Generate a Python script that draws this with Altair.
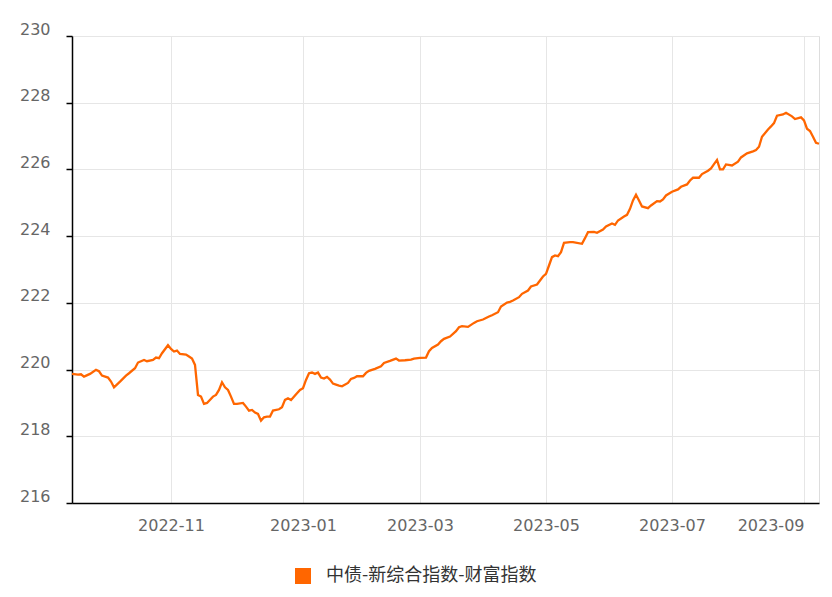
import altair as alt
import pandas as pd

series_name = "中债-新综合指数-财富指数"

# trading-day index along the category axis
day_index = [
    0, 2, 3, 4, 6, 8, 9, 10, 12, 13, 14, 16, 18, 19, 21, 22, 24, 25, 27, 28,
    29, 30, 32, 33, 34, 35, 36, 38, 39, 40, 41, 42, 43, 44, 45, 47, 48, 49, 50, 51,
    52, 53, 54, 55, 57, 58, 59, 60, 61, 62, 63, 64, 65, 66, 67, 69, 70, 71, 72, 73,
    75, 76, 77, 78, 79, 80, 81, 82, 83, 84, 85, 86, 87, 88, 89, 90, 92, 93, 94, 95,
    97, 98, 99, 101, 103, 104, 106, 108, 109, 111, 113, 114, 116, 118, 119, 120, 122, 123, 124, 126,
    128, 129, 130, 132, 134, 135, 137, 139, 140, 142, 143, 145, 146, 147, 149, 150, 152, 153, 155, 156,
    157, 158, 159, 160, 161, 162, 163, 164, 166, 167, 170, 171, 172, 174, 175, 177, 178, 180, 181, 182,
    184, 185, 186, 187, 188, 189, 190, 192, 193, 195, 196, 197, 198, 200, 202, 203, 205, 206, 207, 209,
    210, 212, 213, 214, 215, 216, 217, 218, 220, 222, 223, 225, 227, 228, 229, 230, 232, 233, 234, 235,
    237, 238, 240, 241, 243, 244, 245, 246, 247, 248, 249,
]

index_value = [
    219.87, 219.85, 219.86, 219.79, 219.87, 219.99, 219.95, 219.82, 219.76, 219.64,
    219.47, 219.64, 219.82, 219.89, 220.04, 220.21, 220.29, 220.25, 220.29, 220.36,
    220.34, 220.49, 220.73, 220.62, 220.54, 220.57, 220.47, 220.45, 220.39, 220.33,
    220.14, 219.24, 219.19, 218.97, 219.00, 219.19, 219.24, 219.39, 219.62, 219.47,
    219.39, 219.19, 218.97, 218.97, 219.00, 218.89, 218.77, 218.79, 218.71, 218.67,
    218.47, 218.57, 218.59, 218.59, 218.77, 218.81, 218.87, 219.09, 219.14, 219.09,
    219.29, 219.39, 219.44, 219.69, 219.89, 219.91, 219.87, 219.91, 219.76, 219.73,
    219.78, 219.70, 219.58, 219.55, 219.52, 219.50, 219.60, 219.72, 219.75, 219.80,
    219.80, 219.90, 219.96, 220.02, 220.10, 220.20, 220.26, 220.33, 220.27, 220.28,
    220.30, 220.33, 220.35, 220.36, 220.55, 220.65, 220.75, 220.85, 220.92, 220.99,
    221.15, 221.27, 221.30, 221.28, 221.40, 221.45, 221.50, 221.59, 221.63, 221.72,
    221.89, 222.01, 222.03, 222.07, 222.17, 222.27, 222.37, 222.49, 222.55, 222.67,
    222.79, 222.87, 223.12, 223.37, 223.42, 223.40, 223.52, 223.80, 223.82, 223.82,
    223.77, 223.94, 224.12, 224.13, 224.10, 224.20, 224.29, 224.38, 224.34, 224.47,
    224.59, 224.64, 224.82, 225.07, 225.24, 225.07, 224.89, 224.84, 224.92, 225.05,
    225.04, 225.10, 225.22, 225.33, 225.40, 225.48, 225.55, 225.67, 225.75, 225.75,
    225.86, 225.96, 226.03, 226.16, 226.28, 226.00, 226.00, 226.15, 226.12, 226.23,
    226.36, 226.48, 226.54, 226.58, 226.68, 226.98, 227.20, 227.29, 227.39, 227.61,
    227.65, 227.70, 227.59, 227.51, 227.56, 227.47, 227.22, 227.15, 226.98, 226.80,
    226.77,
]

tick_days = [33, 77, 116, 158, 200, 244]
tick_labels = ["2022-11", "2023-01", "2023-03", "2023-05", "2023-07", "2023-09"]
y_ticks = [216, 218, 220, 222, 224, 226, 228, 230]

df = pd.DataFrame({"day": day_index, "value": index_value})
df["series"] = series_name

label_expr = (
    "[" + ",".join(f"'{s}'" for s in tick_labels) + "]"
    + "[indexof([" + ",".join(str(d) for d in tick_days) + "], datum.value)]"
)

chart = alt.Chart(df).mark_line(strokeWidth=2.3).encode(
    x=alt.X(
        "day:Q",
        scale=alt.Scale(domain=[0, 249], nice=False, zero=False),
        axis=alt.Axis(
            values=tick_days, labelExpr=label_expr, title=None,
            ticks=False, tickSize=0, labelPadding=14, labelFlush=20,
            grid=True, gridColor="#e6e6e6", gridWidth=1,
            domainColor="#000000", domainWidth=1.5,
            labelFontSize=16, labelColor="#666666", labelFont="DejaVu Sans",
        ),
    ),
    y=alt.Y(
        "value:Q",
        scale=alt.Scale(domain=[216, 230], nice=False, zero=False),
        axis=alt.Axis(
            values=y_ticks, title=None, format="d",
            tickSize=6, tickColor="#000000", tickWidth=1.5,
            labelPadding=16, labelBaseline="alphabetic", labelOffset=-2,
            grid=True, gridColor="#e6e6e6", gridWidth=1,
            domainColor="#000000", domainWidth=1.5,
            labelFontSize=16, labelColor="#666666", labelFont="DejaVu Sans",
        ),
    ),
    color=alt.Color(
        "series:N",
        scale=alt.Scale(range=["#ff6600"]),
        legend=alt.Legend(
            orient="none", legendX=222, legendY=531, title=None,
            symbolType="square", symbolSize=256, symbolFillColor="#ff6600",
            symbolStrokeWidth=0, labelFontSize=18, labelFont="Noto Sans CJK SC",
            labelColor="#333333", labelOffset=14, labelLimit=0,
        ),
    ),
).properties(
    width=747, height=467,
    autosize=alt.AutoSizeParams(type="none"),
    padding={"left": 64, "top": 28, "right": 5, "bottom": 86},
).configure_view(stroke=None).configure(background="#ffffff")

chart.save("out.html", embed_options={"renderer": "svg", "actions": False})
